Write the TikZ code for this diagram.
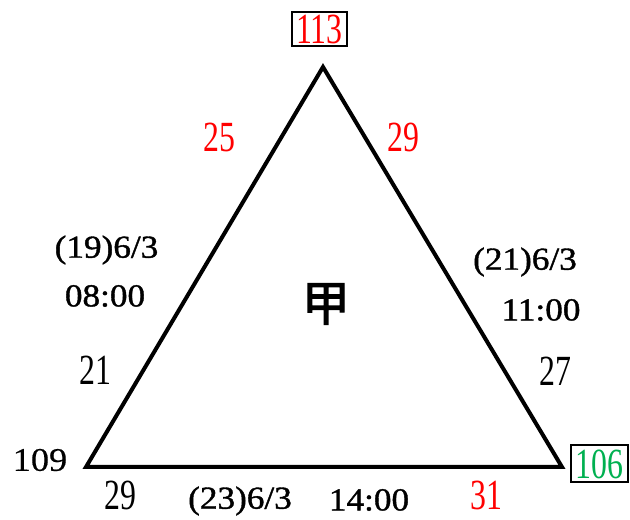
\documentclass[tikz,border=0pt]{standalone}
\usepackage{fontspec}
\setmainfont{Liberation Serif}
\newfontfamily\condfont[FakeStretch=0.74]{Liberation Serif}
\newfontfamily\boldlab[FakeStretch=1.1,FakeBold=1.2]{Liberation Serif}
\newfontfamily\widefont[FakeStretch=1.1,FakeBold=0.4]{Liberation Serif}
\newfontfamily\cjk[FakeBold=2.5]{Noto Sans CJK SC}
\definecolor{rd}{RGB}{255,0,0}
\definecolor{gn}{RGB}{0,176,80}
\begin{document}
\begin{tikzpicture}[x=1pt,y=1pt,
  cnum/.style={inner sep=0pt,font=\condfont\fontsize{43}{43}\selectfont},
  blab/.style={inner sep=0pt,font=\boldlab\fontsize{32}{32}\selectfont},
  vbox/.style={draw,line width=2pt,inner sep=0pt,minimum height=34pt},
  tri/.style={line width=4pt,line join=miter}]
\useasboundingbox (0,0) rectangle (630,520);
\coordinate (A) at (323,453);
\coordinate (B) at (86,53);
\coordinate (C) at (562,53);
\draw[tri] (A) -- (B) -- (C) -- cycle;
% vertex labels
\node[vbox,minimum width=55pt,text=rd,cnum] (top) at (319.5,491) {113};
\node[vbox,minimum width=57pt,text=gn,cnum,minimum height=37pt] (br) at (599.5,56) {106};
\node[inner sep=0pt,font=\widefont\fontsize{33}{33}\selectfont] (bl) at (40,60) {109};
% edge numbers
\node[cnum,text=rd] (n25) at (219,383) {25};
\node[cnum,text=rd] (n29) at (403,383) {29};
\node[cnum] (n21) at (95.5,149.5) {21};
\node[cnum] (n27) at (555,149) {27};
\node[cnum] (n29b) at (120,25) {29};
\node[cnum,text=rd] (n31) at (486,25) {31};
% dates
\node[blab] (d1) at (106.5,270) {(19)6/3};
\node[blab] (t1) at (105,224) {08:00};
\node[blab] (d2) at (525,258) {(21)6/3};
\node[blab] (t2) at (541,210) {11:00};
\node[blab] (d3) at (240,19) {(23)6/3};
\node[blab] (t3) at (369,20) {14:00};
% center
\node[inner sep=0pt,font=\cjk\fontsize{48}{48}\selectfont] (jia) at (326,216) {甲};
\end{tikzpicture}
\end{document}
